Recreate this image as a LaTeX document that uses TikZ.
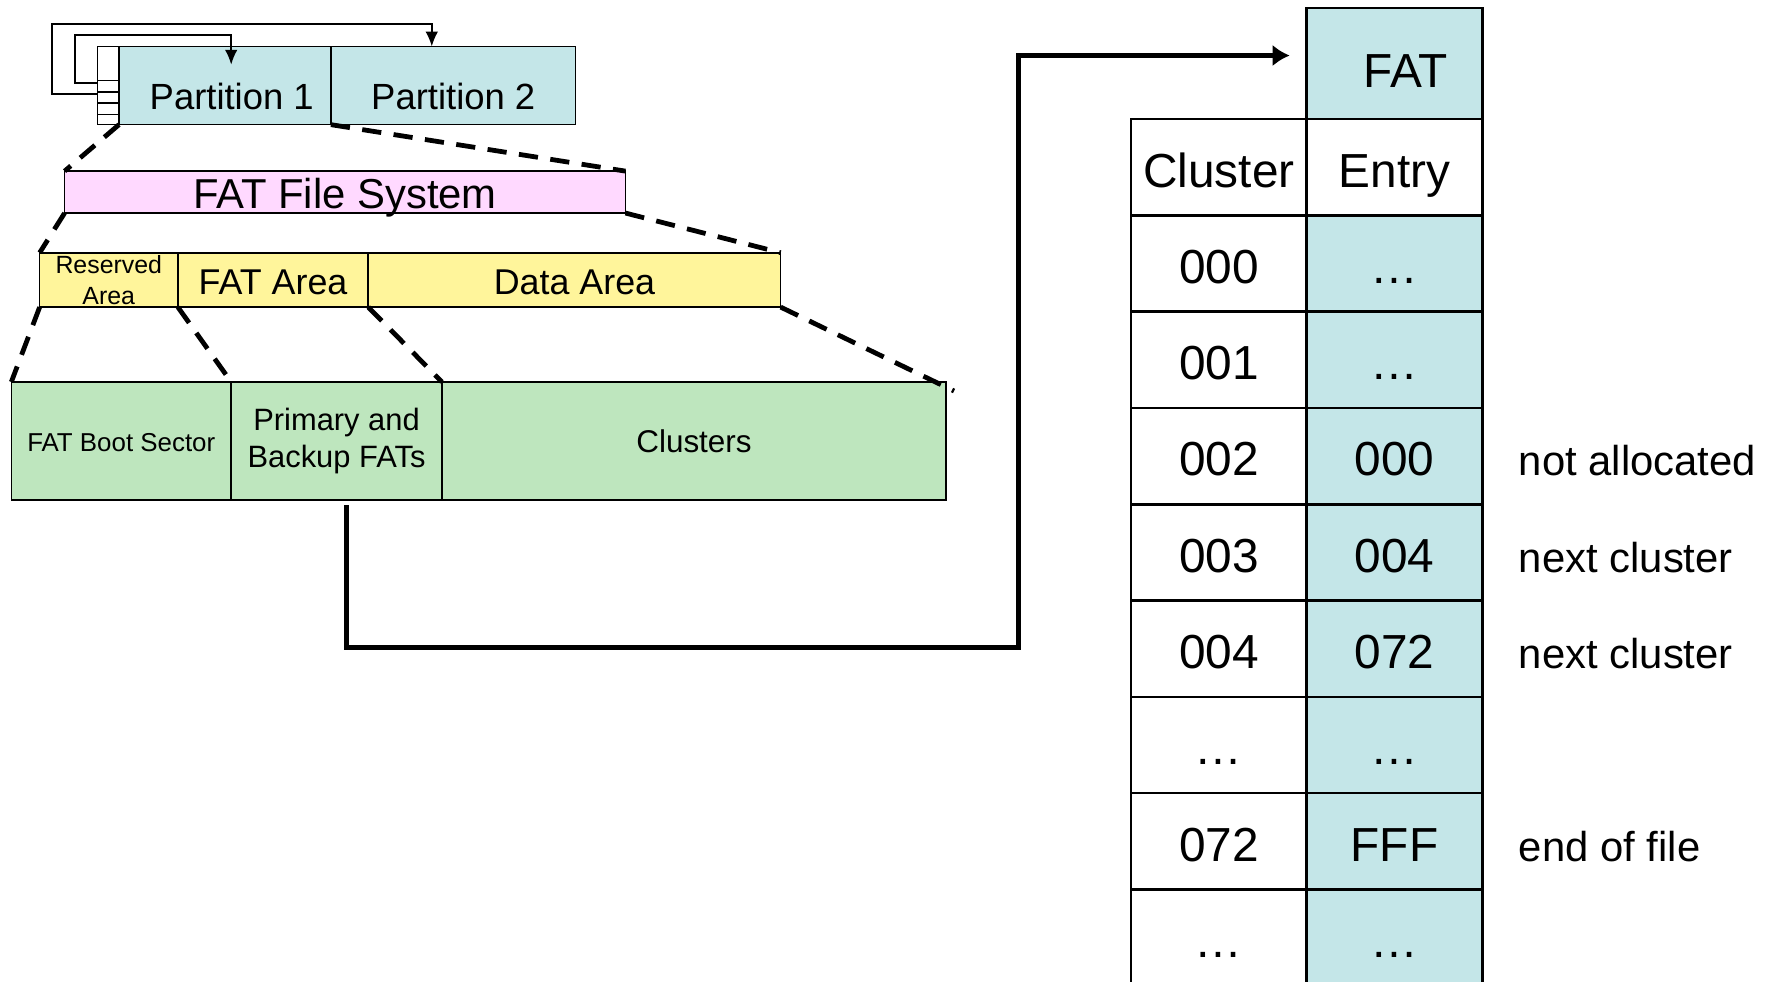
\documentclass[tikz,border=0pt]{standalone}
\usepackage{fontspec}
\setmainfont{Liberation Sans}
\usetikzlibrary{positioning,arrows.meta}

\definecolor{partblue}{RGB}{196,230,232}
\definecolor{fspink}{RGB}{255,217,255}
\definecolor{areayellow}{RGB}{255,245,155}
\definecolor{secgreen}{RGB}{190,230,190}

\begin{document}
\begin{tikzpicture}[x=0.02cm,y=-0.02cm,line join=miter,
    box/.style={draw,line width=0.8pt,outer sep=0pt,inner sep=0pt,align=center},
    cell/.style={draw,line width=1.3pt,outer sep=0pt,inner sep=0pt,minimum width=3.1cm,minimum height=1.7cm,
        text height=20pt,text depth=0pt,font=\fontsize{24}{28}\selectfont},
    note/.style={inner sep=0pt,text height=20pt,text depth=0pt,font=\fontsize{21}{25}\selectfont},
    zoomline/.style={line width=2.4pt,dash pattern=on 0.34cm off 0.22cm},
    ptr/.style={-{Latex[length=0.26cm,width=0.22cm]},line width=0.8pt},
    bigptr/.style={-{Latex[length=0.3cm,width=0.38cm]},line width=2.5pt}]

    \useasboundingbox (0,0) rectangle (1568,866);

    %the disk and its partitions
    \node[box,fill=white,minimum width=0.38cm,minimum height=1.38cm,anchor=north west] (ptab) at (86,41) {};
    \node[box,fill=partblue,minimum width=3.74cm,minimum height=1.38cm,right=0pt of ptab,
        text height=24pt,text depth=0pt,font=\fontsize{18.3}{22}\selectfont] (p1) {\hspace*{0.24cm}Partition 1};
    \node[box,fill=partblue,minimum width=4.32cm,minimum height=1.38cm,right=0pt of p1,
        text height=24pt,text depth=0pt,font=\fontsize{18.3}{22}\selectfont] (p2) {Partition 2};
    \draw[line width=0.8pt] (86,71) -- (105,71) (86,81) -- (105,81) (86,91) -- (105,91) (86,101) -- (105,101);

    % partition table pointers
    \coordinate (outer) at (46,21);
    \coordinate (inner) at (66,31);
    \draw[ptr] (ptab.west |- 0,83) -| (outer) -| (381,41);
    \draw[ptr] (ptab.west |- 0,73) -| (inner) -| (204,57);

    %the file system
    \node[box,fill=fspink,minimum width=9.9cm,minimum height=0.74cm,anchor=north west,
        text height=16.5pt,text depth=0pt,font=\fontsize{21}{25}\selectfont] (fs) at (57,151) {FAT File System};
    \draw[zoomline] (p1.south west) -- (fs.north west);
    \draw[zoomline] (p1.south east) -- (fs.north east);

    %its areas
    \node[box,fill=areayellow,minimum width=2.44cm,minimum height=0.96cm,anchor=north west,
        font=\fontsize{12.5}{15.3}\selectfont] (resv) at (35,223) {\raisebox{-2pt}{Reserved}\\\raisebox{-2pt}{Area}};
    \node[box,fill=areayellow,minimum width=3.36cm,minimum height=0.96cm,right=0pt of resv,
        text height=14.8pt,text depth=0pt,font=\fontsize{18}{22}\selectfont] (fatarea) {FAT Area};
    \node[box,fill=areayellow,minimum width=7.28cm,minimum height=0.96cm,right=0pt of fatarea,
        text height=14.8pt,text depth=0pt,font=\fontsize{18}{22}\selectfont] (data) {Data Area};
    \draw[zoomline] (fs.south west) -- (resv.north west);
    \draw[zoomline] (fs.south east) -- (data.north east);

    % what is stored in them
    \node[box,fill=secgreen,minimum width=3.88cm,minimum height=2.08cm,anchor=north west,
        text height=10.8pt,text depth=0pt,font=\fontsize{13}{16}\selectfont] (boot) at (10,337) {FAT Boot Sector};
    \node[box,fill=secgreen,minimum width=3.72cm,minimum height=2.08cm,right=0pt of boot,
        font=\fontsize{15.5}{18.8}\selectfont] (prim) {\raisebox{-4pt}{Primary and}\\\raisebox{-4pt}{Backup FATs}};
    \node[box,fill=secgreen,minimum width=8.9cm,minimum height=2.08cm,right=0pt of prim,
        text height=12pt,text depth=0pt,font=\fontsize{15.8}{19}\selectfont] (clus) {Clusters};
    \draw[zoomline] (resv.south west) -- (boot.north west);
    \draw[zoomline] (fatarea.south west) -- (boot.north east);
    \draw[zoomline] (fatarea.south east) -- (prim.north east);
    \draw[zoomline] (data.south east) -- ([xshift=0.14cm,yshift=-0.16cm]clus.north east);

    %the table
    \node[cell,fill=partblue,minimum height=1.96cm,text height=24pt,anchor=north west] (fathead) at (1153,7) {\hspace*{0.4cm}FAT};
    \node[cell,fill=white,below=0pt of fathead] (ehead) {Entry};
    \node[cell,fill=white,left=0pt of ehead] (chead) {Cluster};
    \node[cell,fill=partblue,below=0pt of ehead] (e0) {…};
    \node[cell,left=0pt of e0] (c0) {000};
    \node[cell,fill=partblue,below=0pt of e0] (e1) {…};
    \node[cell,left=0pt of e1] (c1) {001};
    \node[cell,fill=partblue,below=0pt of e1] (e2) {000};
    \node[cell,left=0pt of e2] (c2) {002};
    \node[cell,fill=partblue,below=0pt of e2] (e3) {004};
    \node[cell,left=0pt of e3] (c3) {003};
    \node[cell,fill=partblue,below=0pt of e3] (e4) {072};
    \node[cell,left=0pt of e4] (c4) {004};
    \node[cell,fill=partblue,below=0pt of e4] (e5) {…};
    \node[cell,left=0pt of e5] (c5) {…};
    \node[cell,fill=partblue,below=0pt of e5] (e6) {FFF};
    \node[cell,left=0pt of e6] (c6) {072};
    \node[cell,fill=partblue,below=0pt of e6] (e7) {…};
    \node[cell,left=0pt of e7] (c7) {…};

    % what the entries mean
    \node[note,right=0.64cm of e2] (n2) {not allocated};
    \node[note,right=0.64cm of e3] (n3) {next cluster};
    \node[note,right=0.64cm of e4] (n4) {next cluster};
    \node[note,right=0.64cm of e6] (n6) {end of file};

    % the FATs hold the table
    \coordinate (bend) at (899,571);
    \draw[bigptr] ([xshift=0.18cm,yshift=-0.1cm]prim.south) |- (bend) |- ([xshift=-0.3cm,yshift=0.14cm]fathead.west);

\end{tikzpicture}
\end{document}
